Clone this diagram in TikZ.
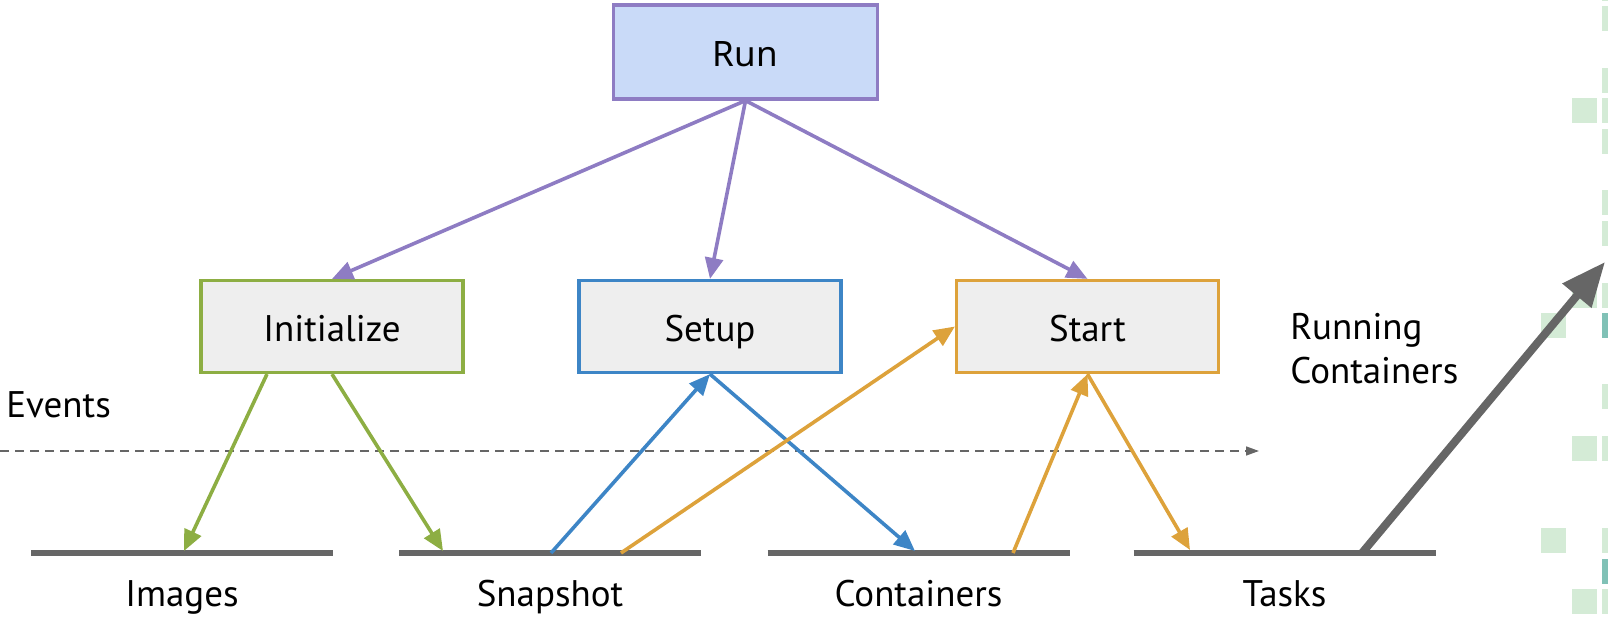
\documentclass[tikz,border=0pt]{standalone}
\usepackage{fontspec}
\setmainfont{PT Sans}
\newfontfamily\runfont{Noto Sans}
\usetikzlibrary{arrows.meta,calc}

\definecolor{runfill}{HTML}{C9DAF8}
\definecolor{runline}{HTML}{8E7CC3}
\definecolor{initline}{HTML}{8DAE43}
\definecolor{setupline}{HTML}{3D85C6}
\definecolor{startline}{HTML}{DDA23B}
\definecolor{boxfill}{HTML}{EEEEEE}
\definecolor{trackgray}{HTML}{666666}
\definecolor{tile}{HTML}{D4EBD6}
\definecolor{tiledark}{HTML}{80C1B6}

\tikzset{
  phase/.style={draw, line width=1.6pt, fill=boxfill, minimum width=131pt,
    minimum height=46pt, inner sep=0pt, text height=15pt, text depth=0pt},
  call/.style={-{Triangle[length=10.5pt,width=9pt]}, line width=1.8pt},
  track/.style={draw=trackgray, line width=3pt},
  label/.style={font=\fontsize{18.5}{22}\selectfont, inner sep=0pt}
}

\begin{document}
\begin{tikzpicture}[x=0.5pt, y=-0.5pt, every node/.style={label}]
    \useasboundingbox (0,0) rectangle (1608,619);
    % tiles on the right edge
    \foreach \y in {-24,6,68,98,129,190,221,283,384,436,528,589}
      \fill[tile] (1602,\y) rectangle (1627,\y+25);
    \foreach \y in {313,559}
      \fill[tiledark] (1602,\y) rectangle (1627,\y+25);
    \foreach \y in {98,283,436,589}
      \fill[tile] (1572,\y) rectangle (1597,\y+25);
    \foreach \y in {313,528}
      \fill[tile] (1541,\y) rectangle (1566,\y+25);
    % phases
    \node[phase, draw=runline, fill=runfill, minimum width=132pt, minimum height=47pt,
      text height=14.7pt, font=\runfont\fontsize{17.5}{21}\selectfont] (run) at (745.5,52) {Run};
    \node[phase, draw=initline] (init) at (332,326.5) {Initialize};
    \node[phase, draw=setupline] (setup) at (710,326.5) {Setup};
    \node[phase, draw=startline] (start) at (1087.5,326.5) {Start};
    % tracks
    \foreach \name/\x/\txt in {images/182/Images, snapshot/550/Snapshot,
        containers/918.5/Containers, tasks/1284.5/Tasks}{
      \draw[track] (\x-151,553) -- (\x+151,553);
      \node[anchor=base] (\name) at (\x,607) {\txt};
    }
    \coordinate (img-in) at (184,551);
    \coordinate (snap-in) at (443,551);
    \coordinate (snap-out1) at (551,553);
    \coordinate (snap-out2) at (621,553);
    \coordinate (cont-in) at (915,551);
    \coordinate (cont-out) at (1013,553);
    \coordinate (task-in) at (1190,550);
    \coordinate (task-out) at (1362,553);
    \coordinate (running) at (1605,262);
    % events
    \node[anchor=base west] (events) at (6,418) {Events};
    \coordinate (ev-a) at (0,451);
    \coordinate (ev-b) at (1259,451);
    \draw[trackgray, line width=0.8pt, dash pattern=on 4.5pt off 3pt,
      -{Triangle[length=6.5pt,width=4.5pt]}] (ev-a) -- (ev-b);
    \node[anchor=base west, align=left] (runlbl) at (1290,384)
      {Running\\Containers};
    % calls
    \draw[call, runline] (run.south) -- (init.north);
    \draw[call, runline] (run.south) -- (setup.north);
    \draw[call, runline] (run.south) -- (start.north);
    \draw[call, initline] ($(init.south)+(-65,0)$) -- (img-in);
    \draw[call, initline] (init.south) -- (snap-in);
    \draw[call, setupline] (snap-out1) -- (setup.south);
    \draw[call, setupline] (setup.south) -- (cont-in);
    \draw[call, startline] (snap-out2) -- (start.west);
    \draw[call, startline] (cont-out) -- (start.south);
    \draw[call, startline] (start.south) -- (task-in);
    \draw[trackgray, line width=4pt, -{Triangle[length=22pt,width=18pt]}]
      (task-out) -- (running);
  \end{tikzpicture}
\end{document}
